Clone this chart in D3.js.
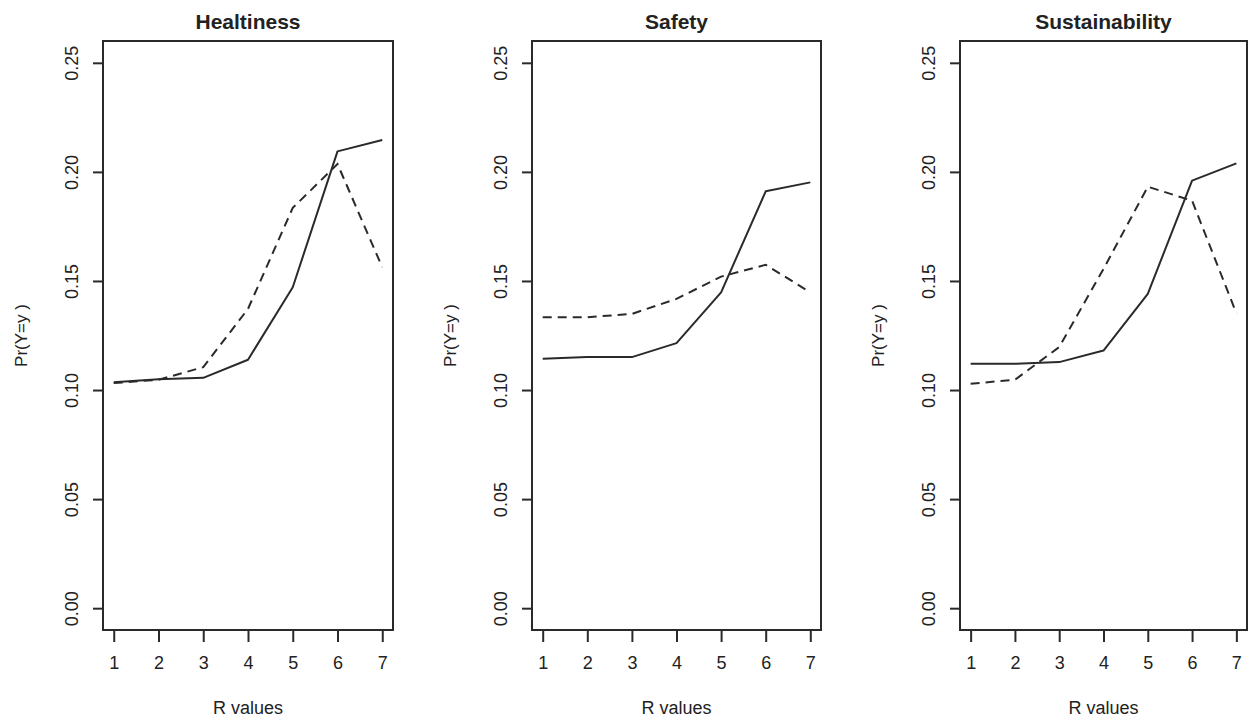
<!DOCTYPE html>
<html>
<head>
<meta charset="utf-8">
<script src="https://cdn.jsdelivr.net/npm/d3@7"></script>
<style>
  html, body { margin: 0; padding: 0; background: #fff; }
  svg { display: block; }
  text { font-family: "Liberation Sans", Arial, Helvetica, sans-serif; fill: #222; }
</style>
</head>
<body>
<svg id="chart" width="1249" height="718"></svg>
<script>
// ---- Data ----
const panelTitles = ["Healtiness", "Safety", "Sustainability"];
const rValues = [1, 2, 3, 4, 5, 6, 7];
const yTicks = [0.00, 0.05, 0.10, 0.15, 0.20, 0.25];
const xLabel = "R values";
const yLabel = "Pr(Y=y )";

const healtinessSolid  = [0.1036, 0.1050, 0.1056, 0.1139, 0.1471, 0.2094, 0.2146];
const healtinessDashed = [0.1032, 0.1047, 0.1105, 0.1372, 0.1835, 0.2036, 0.1563];
const safetySolid      = [0.1143, 0.1151, 0.1151, 0.1215, 0.1448, 0.1911, 0.1952];
const safetyDashed     = [0.1334, 0.1334, 0.1349, 0.1418, 0.1520, 0.1574, 0.1448];
const sustainSolid     = [0.1120, 0.1120, 0.1128, 0.1181, 0.1441, 0.1960, 0.2039];
const sustainDashed    = [0.1029, 0.1047, 0.1197, 0.1555, 0.1932, 0.1868, 0.1352];

const solidSeries  = [healtinessSolid, safetySolid, sustainSolid];
const dashedSeries = [healtinessDashed, safetyDashed, sustainDashed];

// ---- Layout ----
const panelLeft = [103, 532, 960];
const panelWidth = [290, 289, 287];
const plotTop = 41, plotBottom = 630;
const ink = "#2a2a2a";

const svg = d3.select("#chart");

panelTitles.forEach((title, i) => {
  const x0 = panelLeft[i], w = panelWidth[i];
  const x = d3.scaleLinear().domain([0.76, 7.24]).range([x0, x0 + w]);
  const y = d3.scaleLinear().domain([-0.01, 0.26]).range([plotBottom, plotTop]);

  const g = svg.append("g");

  // box
  g.append("rect")
    .attr("x", x0).attr("y", plotTop)
    .attr("width", w).attr("height", plotBottom - plotTop)
    .attr("fill", "none").attr("stroke", ink).attr("stroke-width", 2);

  // x axis
  const xAxis = d3.axisBottom(x).tickValues(rValues).tickSize(12).tickPadding(14)
    .tickFormat(d3.format("d"));
  const gx = g.append("g").attr("transform", `translate(0,${plotBottom})`).call(xAxis);
  gx.select(".domain").attr("d", `M${x(1)},0H${x(7)}`).attr("stroke", ink).attr("stroke-width", 2);
  gx.selectAll(".tick line").attr("stroke", ink).attr("stroke-width", 2);
  gx.selectAll(".tick text").attr("font-size", 18).attr("fill", "#222")
    .attr("font-family", "Liberation Sans, Arial, sans-serif");

  // y axis
  const yAxis = d3.axisLeft(y).tickValues(yTicks).tickSize(10).tickPadding(0)
    .tickFormat(d3.format(".2f"));
  const gy = g.append("g").attr("transform", `translate(${x0},0)`).call(yAxis);
  gy.select(".domain").attr("d", `M0,${y(0)}V${y(0.25)}`).attr("stroke", ink).attr("stroke-width", 2);
  gy.selectAll(".tick line").attr("stroke", ink).attr("stroke-width", 2);
  gy.selectAll(".tick text")
    .attr("font-size", 18).attr("fill", "#222")
    .attr("font-family", "Liberation Sans, Arial, sans-serif")
    .attr("text-anchor", "middle")
    .attr("x", null).attr("dy", null)
    .attr("transform", "translate(-31,0) rotate(-90)")
    .attr("dominant-baseline", "central");

  // lines
  const line = d3.line().x((d, k) => x(rValues[k])).y(d => y(d));
  g.append("path").datum(solidSeries[i])
    .attr("d", line).attr("fill", "none").attr("stroke", ink)
    .attr("stroke-width", 2).attr("stroke-linejoin", "round");
  g.append("path").datum(dashedSeries[i])
    .attr("d", line).attr("fill", "none").attr("stroke", ink)
    .attr("stroke-width", 2).attr("stroke-dasharray", "9,6");

  // title
  g.append("text")
    .attr("x", x0 + w / 2).attr("y", 29)
    .attr("text-anchor", "middle")
    .attr("font-size", 21).attr("font-weight", "bold")
    .text(title);

  // x label
  g.append("text")
    .attr("x", x0 + w / 2).attr("y", 714)
    .attr("text-anchor", "middle")
    .attr("font-size", 18)
    .text(xLabel);

  // y label
  g.append("text")
    .attr("transform", `translate(${x0 - 82},${(plotTop + plotBottom) / 2}) rotate(-90)`)
    .attr("text-anchor", "middle")
    .attr("dominant-baseline", "central")
    .attr("font-size", 17)
    .text(yLabel);
});
</script>
</body>
</html>
